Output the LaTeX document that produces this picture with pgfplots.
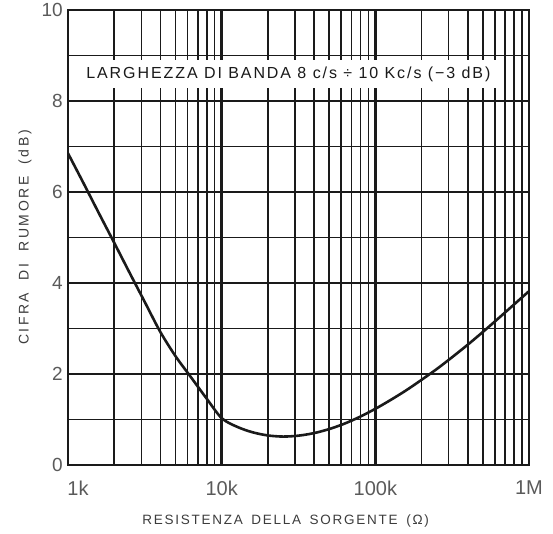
\documentclass[border=0pt]{standalone}
\usepackage{pgfplots}
\pgfplotsset{compat=1.18}
\usepackage{pgfplotstable}
\usepackage{fontspec}
\setmainfont{Liberation Sans}
\newfontfamily\trackfont{Liberation Sans}[LetterSpace=13]
\newfontfamily\widefont{Liberation Sans}[LetterSpace=18]
\newfontfamily\boxfont{Liberation Sans}[LetterSpace=12]

\definecolor{ink}{HTML}{1A1A1A}
\definecolor{lbl}{HTML}{5A5A5A}

% cifra di rumore vs resistenza della sorgente (passi di 0.1 decade)
\pgfplotstableread{
r nf
1000 6.85
1259 6.20
1585 5.54
1995 4.89
2512 4.23
3162 3.58
3981 2.93
5012 2.39
6310 1.93
7943 1.47
10000 1.03
12589 0.84
15849 0.72
19953 0.65
25119 0.625
31623 0.645
39811 0.70
50119 0.79
63096 0.91
79433 1.06
100000 1.235
125893 1.43
158489 1.64
199526 1.87
251189 2.11
316228 2.37
398107 2.64
501187 2.925
630957 3.22
794328 3.52
1000000 3.82
}\nfdata

\begin{document}
\begin{tikzpicture}
\path[use as bounding box] (-68pt,-68pt) rectangle (485pt,465pt);
\begin{axis}[
    scale only axis,
    width=461pt, height=455pt,
    xmode=log,
    xmin=1000, xmax=1000000,
    ymin=0, ymax=10,
    xtick={1000,10000,100000,1000000},
    xticklabels={\hspace*{20pt}1k,10k,100k,1M},
    ytick={0,2,...,10},
    minor ytick={1,3,...,9},
    grid=both,
    major tick length=0pt, minor tick length=0pt,
    major grid style={ink, line width=1.6pt},
    minor grid style={ink, line width=1.6pt},
    major x grid style={ink, line width=2.6pt},
    axis line style={ink, line width=2.4pt},
    /pgf/number format/assume math mode=true,
    xticklabel style={font=\fontsize{20pt}{20pt}\selectfont, text=lbl, anchor=center, yshift=-23pt},
    yticklabel style={font=\fontsize{19pt}{19pt}\selectfont, text=lbl, anchor=east, inner sep=0pt, xshift=-5pt},
    xlabel={RESISTENZA\hspace{3pt} DELLA\hspace{3pt} SORGENTE\hspace{3pt} (Ω)},
    ylabel={CIFRA\hspace{6pt} DI\hspace{6pt} RUMORE\hspace{6pt} (dB)},
    every axis x label/.style={at={(rel axis cs:0.472,0)}, anchor=center, yshift=-56pt,
        font={\trackfont\fontsize{13.5pt}{14pt}\selectfont}, text=ink!85},
    every axis y label/.style={at={(rel axis cs:0,0.5)}, xshift=-43pt, rotate=90, anchor=center,
        font={\widefont\fontsize{14pt}{14pt}\selectfont}, text=ink!85},
]
\addplot[ink, line width=2.6pt, smooth, tension=0.5] table[x=r, y=nf] {\nfdata};
\node[fill=white, inner xsep=6pt, inner ysep=0pt, minimum height=28pt, text=ink,
      font={\boxfont\fontsize{16pt}{16pt}\selectfont}]
  at (rel axis cs:0.478,0.859) {LARGHEZZA DI BANDA 8 c/s ÷ 10 Kc/s (−3 dB)};
\end{axis}
\end{tikzpicture}
\end{document}
